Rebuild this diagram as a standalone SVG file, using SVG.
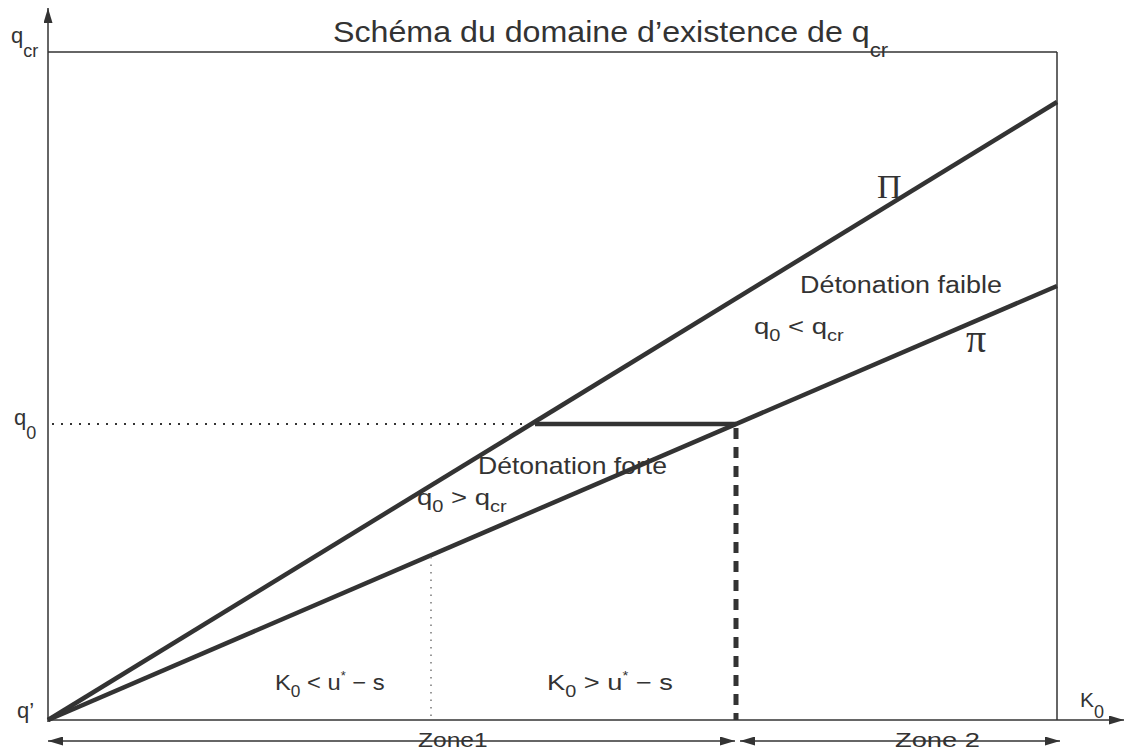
<svg xmlns="http://www.w3.org/2000/svg" width="1127" height="751" viewBox="0 0 1127 751">
<style>
.t{font-family:"Liberation Sans",Arial,sans-serif;fill:#333;}
.s{font-family:"Liberation Serif","Times New Roman",serif;fill:#333;}
.thin{stroke:#333;stroke-width:1.5;fill:none;}
.thick{stroke:#333;stroke-width:4.5;fill:none;}
</style>
<defs>
<marker id="ah" viewBox="0 0 10 10" refX="10" refY="5" markerWidth="15" markerHeight="9" markerUnits="userSpaceOnUse" orient="auto-start-reverse" preserveAspectRatio="none">
<path d="M0,0 L10,5 L0,10 z" fill="#333"/>
</marker>
</defs>
<rect width="1127" height="751" fill="#fff"/>
<g id="axes">
<line class="thin" x1="48" y1="722" x2="48" y2="8" marker-end="url(#ah)"/>
<line class="thin" x1="48" y1="720" x2="1124" y2="720" marker-end="url(#ah)"/>
<line class="thin" x1="48" y1="52" x2="1057" y2="52"/>
<line class="thin" x1="1057" y1="52" x2="1057" y2="720"/>
</g>
<g id="connectors">
<line class="thick" x1="48" y1="720" x2="1057" y2="102"/>
<line class="thick" x1="48" y1="720" x2="1057" y2="286"/>
<line class="thick" x1="535" y1="424" x2="736" y2="424" stroke-width="3.5"/>
<line stroke="#333" stroke-width="2" stroke-dasharray="2,7" x1="52" y1="424" x2="535" y2="424"/>
<line stroke="#333" stroke-width="5" stroke-dasharray="11,8" x1="736" y1="428" x2="736" y2="720"/>
<line stroke="#777" stroke-width="1.5" stroke-dasharray="1.5,6" x1="431" y1="557" x2="431" y2="720"/>
<line class="thin" x1="48" y1="741" x2="735" y2="741" marker-start="url(#ah)" marker-end="url(#ah)"/>
<line class="thin" x1="740" y1="741" x2="1060" y2="741" marker-start="url(#ah)" marker-end="url(#ah)"/>
</g>
<g id="title"><text class="t" font-size="29" transform="translate(333,42) scale(1.11,1)">Schéma du domaine d’existence de q<tspan font-size="20" dy="15">cr</tspan></text></g>
<g id="axis-labels">
<text class="t" x="11" y="43" font-size="22">q<tspan font-size="18" dy="14">cr</tspan></text>
<text class="t" x="14" y="425" font-size="22">q<tspan font-size="18" dy="14">0</tspan></text>
<text class="t" x="17" y="718" font-size="22">q’</text>
<text class="t" x="1080" y="707" font-size="21">K<tspan font-size="18" dy="11">0</tspan></text>
</g>
<g id="curve-labels">
<text class="s" x="877" y="198" font-size="34">Π</text>
<text class="s" x="966" y="352" font-size="40">π</text>
</g>
<g id="region-faible">
<text class="t" font-size="23" transform="translate(800,293) scale(1.17,1)">Détonation faible</text>
<text class="t" font-size="22" transform="translate(754,334) scale(1.25,1)">q<tspan font-size="16" dy="7">0</tspan><tspan dy="-7"> &lt; q</tspan><tspan font-size="16" dy="7">cr</tspan></text>
</g>
<g id="region-forte">
<text class="t" font-size="23" transform="translate(478,474) scale(1.155,1)">Détonation forte</text>
<text class="t" font-size="22" transform="translate(417,505) scale(1.25,1)">q<tspan font-size="16" dy="7">0</tspan><tspan dy="-7"> &gt; q</tspan><tspan font-size="16" dy="7">cr</tspan></text>
</g>
<g id="conditions">
<text class="t" font-size="22" transform="translate(275,690) scale(1.08,1)">K<tspan font-size="16" dy="7">0</tspan><tspan dy="-7"> &lt; u</tspan><tspan font-size="12" dy="-10">*</tspan><tspan dy="10"> − s</tspan></text>
<text class="t" font-size="22" transform="translate(547,690) scale(1.24,1)">K<tspan font-size="16" dy="7">0</tspan><tspan dy="-7"> &gt; u</tspan><tspan font-size="12" dy="-10">*</tspan><tspan dy="10"> − s</tspan></text>
</g>
<g id="zones">
<text class="t" font-size="21" transform="translate(418,747) scale(1.17,1)">Zone1</text>
<text class="t" font-size="21" transform="translate(895,747) scale(1.3,1)">Zone 2</text>
</g>
</svg>
